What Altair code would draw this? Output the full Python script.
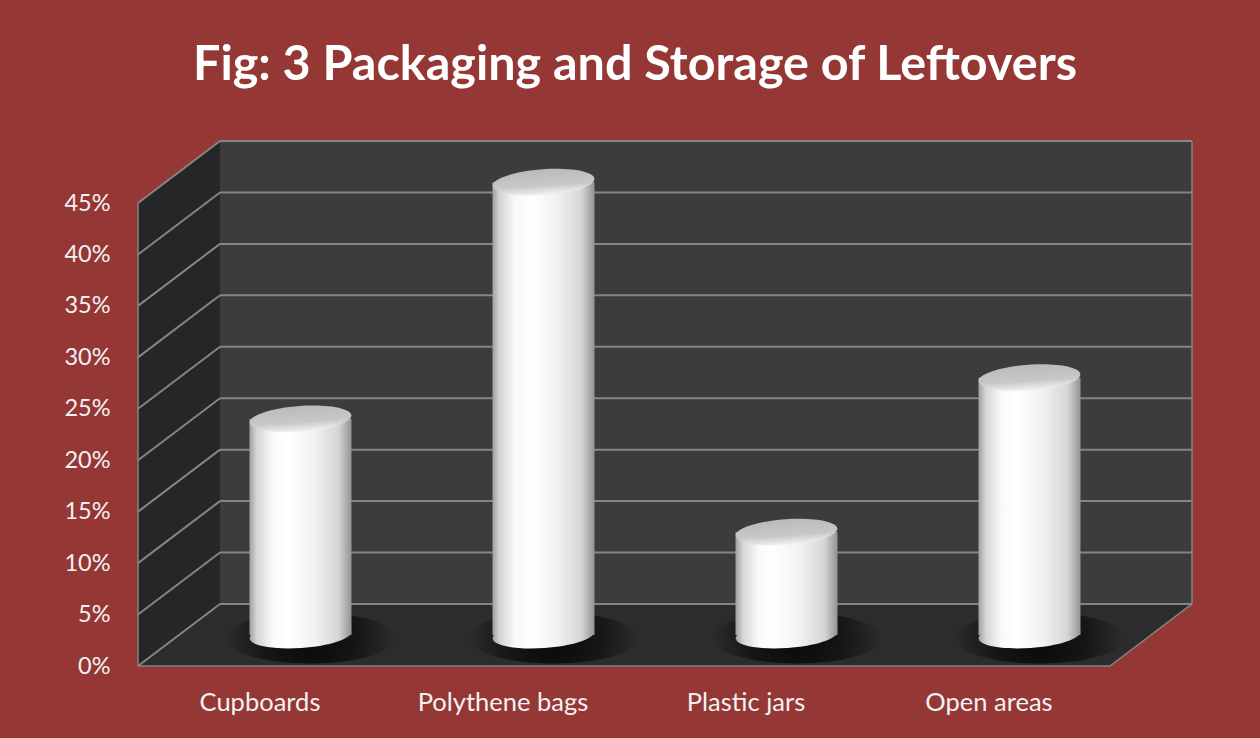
import json
import altair as alt
import pandas as pd

# ---------------- data ----------------
categories = ["Cupboards", "Polythene bags", "Plastic jars", "Open areas"]
values = [21, 44, 10, 25]
y_ticks = [0, 5, 10, 15, 20, 25, 30, 35, 40, 45]
title_text = "Fig: 3 Packaging and Storage of Leftovers"

# ---------------- style ----------------
BG = "#953735"
WALL = "#3c3c3c"
SIDE = "#262626"
FLOOR = "#2c2c2c"
GRID = "#858585"
TXT = "#f2f2f2"
FONT = "Lato"

N = len(categories)
YTOP = max(y_ticks)
DX = 82 / 243.0      # depth offset in category units
DY = 6.03            # depth offset in value units
HW = 51 / 243.0      # half cylinder width in category units
W, H = 1054, 525
CYL_PX = 102

xs = alt.Scale(domain=[0, N + DX], nice=False, zero=False)
ys = alt.Scale(domain=[0, YTOP + DY], nice=False, zero=False)

label_js = json.dumps(categories)
xaxis = alt.Axis(values=[i + 0.5 for i in range(N)],
                 labelExpr=f"{label_js}[floor(datum.value)]",
                 title=None, domain=False, ticks=False, grid=False,
                 labelFont=FONT, labelFontSize=25.5, labelColor=TXT,
                 labelPadding=24, labelAngle=0)
yaxis = alt.Axis(values=y_ticks, labelExpr="datum.value + '%'",
                 title=None, domain=False, ticks=False, grid=False,
                 labelFont=FONT, labelFontSize=23.5, labelColor=TXT,
                 labelPadding=28)


def X(f):
    return alt.X(f, type="quantitative", scale=xs, axis=xaxis)


def Y(f):
    return alt.Y(f, type="quantitative", scale=ys, axis=yaxis)


# back wall
wall = alt.Chart(pd.DataFrame({"x": [DX], "x2": [N + DX], "y": [DY], "y2": [YTOP + DY]})
                 ).mark_rect(color=WALL).encode(x=X("x"), x2="x2", y=Y("y"), y2="y2")

# left side wall
side = alt.Chart(pd.DataFrame({"x": [0, DX], "y": [0, DY], "y2": [YTOP, YTOP + DY]})
                 ).mark_area(color=SIDE, orient="vertical").encode(x=X("x"), y=Y("y"), y2="y2")

# floor
floor = alt.Chart(pd.DataFrame({"y": [0, DY], "x": [0, DX], "x2": [N, N + DX]})
                  ).mark_area(color=FLOOR, orient="horizontal").encode(y=Y("y"), x=X("x"), x2="x2")

# back wall gridlines
grid_back = alt.Chart(pd.DataFrame({"y": [t + DY for t in y_ticks], "x": DX, "x2": N + DX})
                      ).mark_rule(color=GRID, strokeWidth=2).encode(x=X("x"), x2="x2", y=Y("y"))

# side wall slanted gridlines
grid_side = alt.Chart(pd.DataFrame({"x": 0.0, "x2": DX, "y": y_ticks,
                                    "y2": [t + DY for t in y_ticks]})
                      ).mark_rule(color=GRID, strokeWidth=2).encode(x=X("x"), x2="x2", y=Y("y"), y2="y2")

# frame edges
edges = alt.Chart(pd.DataFrame({"x": [0, 0, N, N + DX],
                                "x2": [N, 0, N + DX, N + DX],
                                "y": [0, 0, 0, DY],
                                "y2": [0, YTOP, DY, YTOP + DY]})
                  ).mark_rule(color=GRID, strokeWidth=1.5).encode(x=X("x"), x2="x2", y=Y("y"), y2="y2")

# cylinders
cx = [i + 0.5 + DX / 2 for i in range(N)]
cyl = pd.DataFrame({
    "category": categories,
    "value": values,
    "cx": cx,
    "x1": [c - HW for c in cx],
    "x2": [c + HW for c in cx],
    "base": [DY / 2] * N,
    "top": [v + DY / 2 for v in values],
})

ELL = "M-1,0A1,0.255,0,1,0,1,0A1,0.255,0,1,0,-1,0Z"
SHADOW = "M-1,0A1,0.3,0,1,0,1,0A1,0.3,0,1,0,-1,0Z"

side_grad = alt.Gradient(
    gradient="linear", x1=0, x2=1, y1=0, y2=0,
    stops=[alt.GradientStop(offset=0.0, color="#a0a0a0"),
           alt.GradientStop(offset=0.07, color="#d4d4d4"),
           alt.GradientStop(offset=0.22, color="#f9f9f9"),
           alt.GradientStop(offset=0.38, color="#ffffff"),
           alt.GradientStop(offset=0.62, color="#f2f2f2"),
           alt.GradientStop(offset=0.87, color="#d6d6d6"),
           alt.GradientStop(offset=1.0, color="#939393")])
top_grad = alt.Gradient(
    gradient="linear", x1=0, x2=0, y1=0, y2=1,
    stops=[alt.GradientStop(offset=0.0, color="#bababa"),
           alt.GradientStop(offset=0.62, color="#c8c8c8"),
           alt.GradientStop(offset=1.0, color="#f4f4f4")])
shadow_grad = alt.Gradient(
    gradient="radial", x1=0.5, y1=0.5, r1=0, x2=0.5, y2=0.5, r2=0.5,
    stops=[alt.GradientStop(offset=0.0, color="rgba(0,0,0,0.8)"),
           alt.GradientStop(offset=0.55, color="rgba(0,0,0,0.5)"),
           alt.GradientStop(offset=1.0, color="rgba(0,0,0,0)")])

base = alt.Chart(cyl)

shadow = base.mark_point(shape=SHADOW, size=170 ** 2, filled=True, fill=shadow_grad,
                         opacity=1, strokeWidth=0, xOffset=10, yOffset=3
                         ).encode(x=X("cx"), y=Y("base"))

bottom_ell = base.mark_point(shape=ELL, size=CYL_PX ** 2, filled=True, fill=side_grad,
                             opacity=1, strokeWidth=0, angle=356
                             ).encode(x=X("cx"), y=Y("base"))
body = base.mark_rect(fill=side_grad, strokeWidth=0).encode(x=X("x1"), x2="x2", y=Y("base"), y2="top")
top_ell = base.mark_point(shape=ELL, size=CYL_PX ** 2, filled=True, fill=top_grad,
                          opacity=1, strokeWidth=0, angle=356
                          ).encode(x=X("cx"), y=Y("top"))

# chart title as a text mark placed above the plot area
title = alt.Chart(pd.DataFrame({"t": [title_text]})).mark_text(
    font=FONT, fontSize=48.5, fontWeight="bold", color="white",
    align="center", baseline="alphabetic"
).encode(text="t:N", x=alt.value(497), y=alt.value(-61))

chart = alt.layer(wall, side, floor, grid_back, grid_side, edges, shadow,
                  bottom_ell, body, top_ell, title).properties(
    width=W, height=H,
    background=BG,
    padding={"left": 138, "top": 141, "right": 68, "bottom": 72},
    autosize=alt.AutoSizeParams(type="none"),
).configure_view(strokeWidth=0)

chart.save("out.html", embed_options={"renderer": "svg", "actions": False})
